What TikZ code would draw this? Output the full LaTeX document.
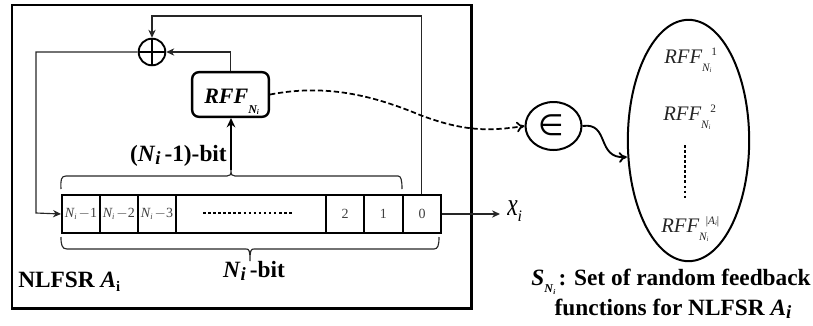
\documentclass[tikz,border=0pt]{standalone}
\usepackage{fontspec}
\setmainfont{Liberation Serif}
\usetikzlibrary{arrows.meta,shapes.geometric}
\tikzset{
 x=0.75pt,y=-0.75pt,
 thinline/.style={line width=0.85pt,draw=black!85},
 heavy/.style={line width=1.5pt,draw=black,minimum height=28.5pt,inner sep=0pt,anchor=north west},
 cell/.style={font=\fontsize{10.5}{12}\selectfont\itshape,text=black!75,inner sep=0pt},
 digit/.style={font=\fontsize{10.5}{12}\selectfont,text=black!75,inner sep=0pt},
 tip/.style={-{Stealth[length=6pt,width=5.5pt]}},
 opentip/.style={-{To[length=6pt,width=8pt]}},
 rffitem/.style={font=\fontsize{15.5}{18}\selectfont\itshape,text=black!85,inner sep=0pt,anchor=base west},
 bold/.style={font=\fontsize{17.5}{22.5}\selectfont\bfseries,inner sep=0pt},
 dots/.style={line width=1.9pt,dash pattern=on 1.9pt off 1.9pt},
}
\newcommand{\subN}{\fontsize{8.5}{9}\selectfont N\raisebox{-0.35ex}{\scalebox{0.6}{i}}}
\newcommand{\rffx}[2]{RFF\rlap{\raisebox{-6pt}{\subN}}\hspace{#1}\raisebox{6pt}{\fontsize{8.5}{9}\selectfont\upshape #2}}
\newcommand{\celltxt}[1]{N\raisebox{-0.3ex}{\scalebox{0.6}{i}}\hspace{1.5pt}\textup{$-$#1}}
\newcommand{\biti}{\raisebox{-0.35ex}{\fontsize{14}{16}\selectfont\textit{i}}}
\begin{document}
\begin{tikzpicture}
\useasboundingbox (0,0) rectangle (813,325);
\node[draw=black,line width=1.8pt,minimum width=344.5pt,minimum height=227.5pt,inner sep=0pt,anchor=north west] (outer) at (11,4) {};
% register
\node[heavy,minimum width=28.5pt] (c1) at (61,194) {};
\node[heavy,minimum width=28.2pt] (c2) at (99,194) {};
\node[heavy,minimum width=28.5pt] (c3) at (137,194) {};
\node[heavy,minimum width=112.5pt] (c4) at (175,194) {};
\node[heavy,minimum width=28.5pt] (c5) at (325,194) {};
\node[heavy,minimum width=29.2pt] (c6) at (363,194) {};
\node[heavy,minimum width=28.5pt] (c7) at (402,194) {};
\node[cell] at (c1) {\celltxt{1}};
\node[cell] at (c2) {\celltxt{2}};
\node[cell] at (c3) {\celltxt{3}};
\node[digit] at (c5) {2};
\node[digit] at (c6) {1};
\node[digit] at (c7) {0};
\coordinate (dotsL) at (203,213);
\coordinate (dotsR) at (292,213);
\draw[dots] (dotsL) -- (dotsR);
% xor
\node[circle,draw=black,line width=1.4pt,minimum size=20pt,inner sep=0pt] (xor) at (152,52) {};
\draw[line width=1.1pt] (xor.north) -- (xor.south) (xor.west) -- (xor.east);
% RFF
\node[draw=black,line width=1.8pt,rounded corners=5pt,minimum width=57.5pt,minimum height=33.5pt,inner sep=0pt] (rff) at (230.5,94.5) {};
\node[inner sep=0pt,anchor=base west,font=\fontsize{16.5}{19}\selectfont\bfseries\itshape] (rfflab) at (204,103) {RFF\raisebox{-7.5pt}{\fontsize{9}{10}\selectfont N\raisebox{-0.35ex}{\scalebox{0.6}{i}}}};
% connectors
\draw[thinline,tip] (c7.north) ++(-0.5,0) coordinate (t0) -- (t0 |- 0,16) -- (xor.north |- 0,16) -- (xor.north);
\draw[thinline,tip] (rff.north) -- (rff.north |- xor.east) -- (xor.east);
\draw[thinline,tip] (xor.west) -- (36,52) -- (36,213) -- (c1.west);
\coordinate (tick) at (231,170);
\draw[line width=1.6pt,-{Stealth[length=7pt,width=6.5pt]}] (tick) -- (rff.south -| tick);
% braces
\coordinate (ub1) at (61,189);
\coordinate (ub2) at (402,189);
\draw[line width=0.85pt,black!85] (ub1) .. controls (60.5,180) and (61,176) .. (66,176) -- (227,176) .. controls (230,176) and (231,175) .. (231,170) .. controls (231,175) and (232,176) .. (235,176) -- (398,176) .. controls (401,176) and (402,180) .. (ub2);
\coordinate (lb1) at (61,237);
\coordinate (lb2) at (439,237);
\coordinate (ltick) at (250,261);
\draw[line width=0.85pt,black!85] (lb1) .. controls (61,245) and (62,249) .. (67,249) -- (246,249) .. controls (249,249) and (250,250) .. (ltick) .. controls (250,250) and (251,249) .. (254,249) -- (434,249) .. controls (438,249) and (439,245) .. (lb2);
% output
\node[inner xsep=5.25pt,inner ysep=0pt,anchor=base west,font=\fontsize{22}{24}\selectfont\itshape] (xi) at (500,215) {\scalebox{0.8}[1.1]{x}\raisebox{-0.5ex}{\fontsize{12}{14}\selectfont i}};
\draw[thinline,tip] (c7.east) -- (xi.west |- c7.east);
% labels
\node[bold,anchor=base east] (l1) at (227,161) {(\textit{N}\biti\,-1)-bit};
\node[bold,anchor=base] (l2) at (254,277) {\textit{N}\biti\,-bit};
\node[bold,anchor=base west] (l3) at (18,287) {NLFSR \textit{A}\raisebox{-0.4ex}{\fontsize{11}{12}\selectfont i}};
% set
\node[ellipse,draw=black,line width=1.5pt,minimum width=91pt,minimum height=181pt,inner sep=0pt] (set) at (688.5,140.5) {};
\node[ellipse,draw=black,line width=1.5pt,minimum width=42pt,minimum height=36pt,inner sep=0pt] (in) at (553.5,126) {};
\node[inner sep=0pt] (insym) at (551,125) {\fontspec{DejaVu Sans}\fontsize{22}{24}\selectfont ∈};
\draw[line width=1.3pt,dash pattern=on 4pt off 2pt,opentip] (rff.east) .. controls (320,85) and (365,92) .. (420,115) .. controls (465,132) and (490,131) .. (in.west);
\coordinate (setin) at (set.west |- 0,157);
\draw[line width=1.4pt,opentip] (in.east) .. controls (610,122) and (596,159) .. (setin);
% set items
\node[rffitem] (r1) at (664,63) {\rffx{7pt}{1}};
\node[rffitem] (r2) at (663,120) {\rffx{7pt}{2}};
\node[rffitem] (r3) at (661,232) {\rffx{5pt}{|\textit{A}\raisebox{-0.3ex}{\scalebox{0.6}{\textit{i}}}|}};
\coordinate (vd1) at (685,145);
\coordinate (vd2) at (685,200);
\draw[dots] (vd1) -- (vd2);
\node[bold,anchor=base,align=center] (cap) at (671,315) {\textit{S}\raisebox{-0.7ex}{\fontsize{9}{9}\selectfont\textit{N}\raisebox{-0.3ex}{\scalebox{0.6}{\textit{i}}}}\hspace{2.5pt}: Set of random feedback\\\hspace{3pt}functions for NLFSR \textit{A}\biti};
\end{tikzpicture}
\end{document}
